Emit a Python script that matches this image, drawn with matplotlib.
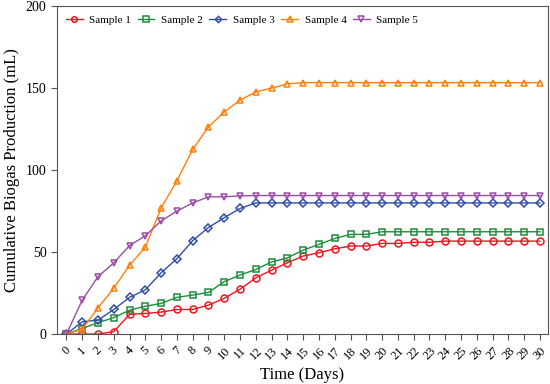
import numpy as np
import matplotlib.pyplot as plt

plt.rcParams['font.family'] = 'Liberation Serif'

days = list(range(31))
sample1 = [0, 0, 0, 1.5, 12, 12.6, 13.4, 15, 15, 17.7, 21.8, 27.4, 34.3, 39, 43.5, 47.6,
           49.6, 52, 53.7, 53.7, 55.3, 55.3, 56, 56, 56.7, 56.7, 56.7, 56.7, 56.7, 56.7, 56.7]
sample2 = [0, 3.4, 7, 10, 14.6, 17, 18.7, 22.4, 23.8, 25.4, 32, 36, 39.4, 44, 46.5, 51.2,
           54.7, 58.3, 60.8, 60.8, 62.4, 62.4, 62.4, 62.4, 62.4, 62.4, 62.4, 62.4, 62.4, 62.4, 62.4]
sample3 = [0, 7.5, 8.5, 15, 22.4, 27, 37.4, 46, 57, 65, 71, 76.6, 80, 80, 80, 80,
           80, 80, 80, 80, 80, 80, 80, 80, 80, 80, 80, 80, 80, 80, 80]
sample4 = [0, 3, 16, 28, 42, 53, 77, 93.5, 112.6, 126.4, 135.5, 142.7, 147.7, 150, 152.6, 153.3,
           153.3, 153.3, 153.3, 153.3, 153.3, 153.3, 153.3, 153.3, 153.3, 153.3, 153.3, 153.3, 153.3, 153.3, 153.3]
sample5 = [0, 20.7, 35, 43.5, 54, 60, 69, 75, 80, 83.7, 83.7, 84.3, 84.5, 84.5, 84.5, 84.5,
           84.5, 84.5, 84.5, 84.5, 84.5, 84.5, 84.5, 84.5, 84.5, 84.5, 84.5, 84.5, 84.5, 84.5, 84.5]

series = [
    ("Sample 1", sample1, '#F0141E', 'o'),
    ("Sample 2", sample2, '#1E8C3C', 's'),
    ("Sample 3", sample3, '#2F4EA8', 'D'),
    ("Sample 4", sample4, '#FF7F0E', '^'),
    ("Sample 5", sample5, '#9A4DA6', 'v'),
]

fig = plt.figure(figsize=(5.5, 3.84), dpi=100)
ax = fig.add_axes([0.1036, 0.130, 0.8924, 0.854])

for label, vals, color, marker in series:
    ms = 4 if marker == 'D' else 5
    ax.plot(days, vals, color=color, marker=marker, markersize=ms, markerfacecolor='none',
            markeredgewidth=1.1, linewidth=1, label=label)

ax.set_xlim(-0.6, 30.5)
ax.set_ylim(0, 200)
ax.set_xticks(days)
ax.set_xticklabels([str(d) for d in days], rotation=45, fontsize=9)
ax.set_yticks([0, 50, 100, 150, 200])
ax.tick_params(axis='y', labelsize=10)
ax.tick_params(direction='out', length=4, color='#555555')
for sp in ax.spines.values():
    sp.set_color('#555555')

ax.set_xlabel("Time (Days)", fontsize=12)
ax.set_ylabel("Cumulative Biogas Production (mL)", fontsize=12)
ax.legend(loc='upper left', ncol=5, frameon=False, fontsize=8, handlelength=1.5,
          columnspacing=0.6, handletextpad=0.6, borderaxespad=0.4, markerscale=0.8)

fig.savefig('out.png', dpi=100)
